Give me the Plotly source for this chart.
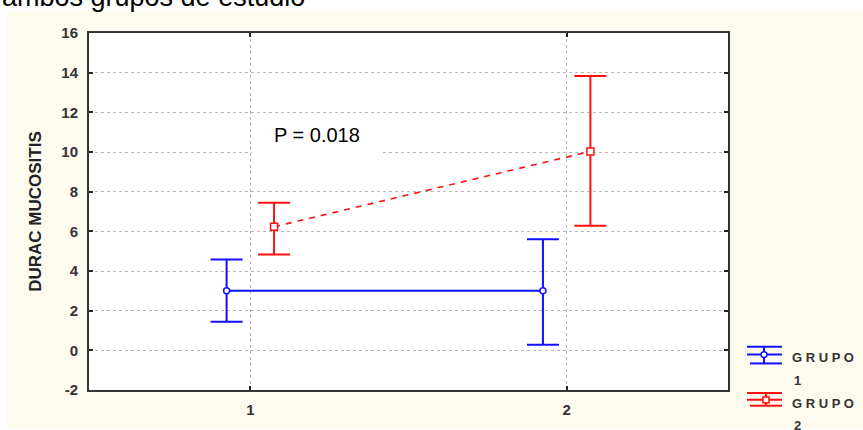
import plotly.graph_objects as go

# ---- data ----
x_cats = [1, 2]
g1_name = "GRUPO 1"
g1_mean = [3.0, 3.0]
g1_upper = [4.58, 5.60]
g1_lower = [1.44, 0.28]

g2_name = "GRUPO 2"
g2_mean = [6.23, 10.03]
g2_upper = [7.44, 13.83]
g2_lower = [4.83, 6.28]

y_ticks = [-2, 0, 2, 4, 6, 8, 10, 12, 14, 16]
x_ticks = [1, 2]
p_text = "P = 0.018"
y_title = "DURAC MUCOSITIS"
top_text = "ambos grupos de estudio"

# ---- layout constants ----
W, H = 863, 430
L, R, T, B = 89, 863 - 728, 33, 430 - 396
PW, PH = W - L - R, H - T - B

def px(xp):
    return (xp - L) / PW

def py(yp):
    return (H - B - yp) / PH

BLUE = "#1010ff"
RED = "#ff1010"
FONT = "Liberation Sans, Arial, sans-serif"
DODGE = 0.075

fig = go.Figure()

fig.add_trace(go.Scatter(
    x=[v - DODGE for v in x_cats], y=g1_mean, name=g1_name, mode="lines+markers",
    line=dict(color=BLUE, width=2),
    marker=dict(symbol="circle", size=6, color="white", line=dict(color=BLUE, width=1.5)),
    error_y=dict(type="data", symmetric=False,
                 array=[u - m for u, m in zip(g1_upper, g1_mean)],
                 arrayminus=[m - l for m, l in zip(g1_mean, g1_lower)],
                 color=BLUE, thickness=2, width=16),
    showlegend=False,
))
fig.add_trace(go.Scatter(
    x=[v + DODGE for v in x_cats], y=g2_mean, name=g2_name, mode="lines+markers",
    line=dict(color=RED, width=1.6, dash="6px,6px"),
    marker=dict(symbol="square", size=7, color="white", line=dict(color=RED, width=1.5)),
    error_y=dict(type="data", symmetric=False,
                 array=[u - m for u, m in zip(g2_upper, g2_mean)],
                 arrayminus=[m - l for m, l in zip(g2_mean, g2_lower)],
                 color=RED, thickness=2, width=16),
    showlegend=False,
))

shapes = [
    # cream panel
    dict(type="rect", xref="paper", yref="paper", x0=px(7), x1=px(W + 5), y0=py(H + 5), y1=py(11),
         fillcolor="#fdfaee", line=dict(width=0), layer="below"),
    # white plotting area
    dict(type="rect", xref="paper", yref="paper", x0=0, x1=1, y0=0, y1=1,
         fillcolor="white", line=dict(width=0), layer="below"),
    # white box behind the P annotation
    dict(type="rect", xref="paper", yref="paper", x0=px(252), x1=px(382), y0=py(157), y1=py(116),
         fillcolor="white", line=dict(width=0), layer="above"),
]

annotations = [
    dict(text=p_text, xref="paper", yref="paper", x=px(317), y=py(137), showarrow=False,
         font=dict(family=FONT, size=20, color="black"), xanchor="center", yanchor="middle"),
    dict(text=top_text, xref="paper", yref="paper", x=px(0), y=py(14), showarrow=False,
         font=dict(family=FONT, size=27, color="black"), xanchor="left", yanchor="bottom"),
]

# custom legend
def legend_icon(color, ys, cx, symbol):
    top, mid, bot = ys
    s = [
        dict(type="line", xref="paper", yref="paper", x0=px(747), x1=px(782), y0=py(top), y1=py(top),
             line=dict(color=color, width=2)),
        dict(type="line", xref="paper", yref="paper", x0=px(747), x1=px(782), y0=py(mid), y1=py(mid),
             line=dict(color=color, width=2)),
        dict(type="line", xref="paper", yref="paper", x0=px(750), x1=px(782), y0=py(bot), y1=py(bot),
             line=dict(color=color, width=2)),
        dict(type="line", xref="paper", yref="paper", x0=px(cx), x1=px(cx), y0=py(top), y1=py(bot),
             line=dict(color=color, width=2)),
    ]
    if symbol == "circle":
        s.append(dict(type="circle", xref="paper", yref="paper", x0=px(cx - 3), x1=px(cx + 3),
                      y0=py(mid + 3), y1=py(mid - 3), fillcolor="white", line=dict(color=color, width=1.5)))
    else:
        s.append(dict(type="rect", xref="paper", yref="paper", x0=px(cx - 3), x1=px(cx + 3),
                      y0=py(mid + 3), y1=py(mid - 3), fillcolor="white", line=dict(color=color, width=1.5)))
    return s

shapes += legend_icon(BLUE, (352, 360, 369), 764, "circle")
shapes += legend_icon(RED, (399, 406, 412), 766, "square")

for name, ytxt, ynum in [(g1_name, 363, 386), (g2_name, 410, 432)]:
    word, num = name.split(" ")
    annotations.append(dict(text=" ".join(word), xref="paper", yref="paper", x=px(790), y=py(ytxt),
                            showarrow=False, xanchor="left", yanchor="middle",
                            font=dict(family=FONT, size=13, color="#333333", weight="bold")))
    annotations.append(dict(text=num, xref="paper", yref="paper", x=px(792), y=py(ynum),
                            showarrow=False, xanchor="left", yanchor="middle",
                            font=dict(family=FONT, size=13, color="#333333", weight="bold")))

axis_common = dict(
    showline=True, linecolor="#333333", linewidth=2, mirror="ticks",
    ticks="inside", ticklen=4, tickcolor="#222222", tickwidth=1.5,
    showgrid=True, gridcolor="#b8b8b8", gridwidth=1, griddash="dot",
    zeroline=False,
    tickfont=dict(family=FONT, size=15, color="#333333", weight="bold"),
)

fig.update_xaxes(range=[0.49, 2.51], tickvals=x_ticks, ticktext=[str(v) for v in x_ticks],
                 ticklabelstandoff=5, **axis_common)
fig.update_yaxes(range=[-2, 16], tickvals=y_ticks, ticktext=[str(v) for v in y_ticks],
                 ticklabelstandoff=6,
                 title=dict(text=y_title, standoff=15,
                            font=dict(family=FONT, size=17, color="#222222", weight="bold")),
                 **axis_common)

fig.update_layout(
    width=W, height=H,
    margin=dict(l=L, r=R, t=T, b=B, pad=0),
    paper_bgcolor="white", plot_bgcolor="white",
    shapes=shapes, annotations=annotations,
    showlegend=False,
)

fig.write_html("out.html", config={"displayModeBar": False},
               post_script="document.body.style.margin='0px';")
